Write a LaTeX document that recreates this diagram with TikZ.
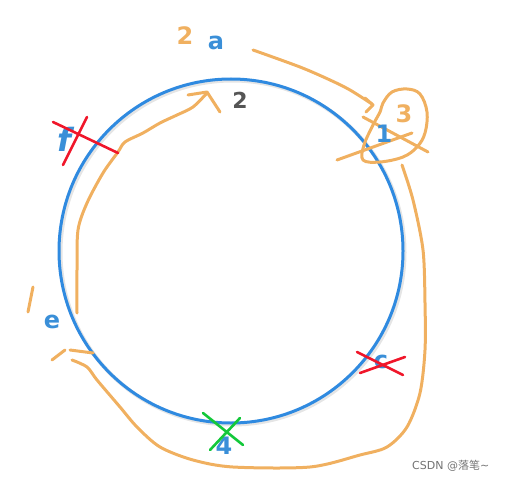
\documentclass[tikz,border=0pt]{standalone}
\usepackage{fontspec}
\setmainfont{DejaVu Sans}
\newfontfamily\cjk{Noto Sans CJK SC}
\definecolor{ringblue}{HTML}{2F8AE0}
\definecolor{inkblue}{HTML}{3A8FD8}
\definecolor{inkorange}{HTML}{F0B060}
\definecolor{inkred}{HTML}{F0162A}
\definecolor{inkgreen}{HTML}{13C83A}
\definecolor{inkgray}{HTML}{555555}
\begin{document}
\begin{tikzpicture}[x=1pt,y=-1pt,
  orange/.style={draw=inkorange,line width=3pt,line cap=round,line join=round},
  redx/.style={draw=inkred,line width=2.6pt,line cap=round},
  greenx/.style={draw=inkgreen,line width=2.6pt,line cap=round},
  bluelbl/.style={text=inkblue,inner sep=0pt,font=\fontsize{24}{24}\selectfont\bfseries},
  orangelbl/.style={text=inkorange,inner sep=0pt,font=\fontsize{24}{24}\selectfont\bfseries}]
\useasboundingbox (0,0) rectangle (508,481);
% ring with soft shadow
\draw[black!10,line width=4pt] (232.5,252.5) circle (172);
\draw[ringblue,line width=3pt] (231,251) circle (172);
% inner orange path with arrow
\draw[orange] plot[smooth,tension=0.5] coordinates {(77,313)(77,270)(78,230)(87,203)(103,173)(118,152)(125,142)(143,133)(160,123)(177,115)(193,107)(207,93)};
\draw[orange] (188,95) -- (207,92) -- (220,112);
% top arrow
\draw[orange] plot[smooth,tension=0.5] coordinates {(253,50)(300,67)(330,80)(350,90)(372,104)};
\draw[orange] (365,98) -- (373,105) -- (366,112);
% blob around 3
\draw[orange] plot[smooth cycle,tension=0.6] coordinates {(383,103)(392,92)(407,89)(420,94)(427,112)(425,133)(417,147)(403,157)(380,162)(363,160)(364,145)(373,125)(380,112)};
\draw[orange] (363,117) -- (428,152);
\draw[orange] (337,160) -- (412,133);
% big outer path
\draw[orange] plot[smooth,tension=0.5] coordinates {(402,165)(413,200)(423,250)(425,303)(425,350)(420,393)(407,427)(387,447)(360,455)(310,467)(233,467)(193,460)(160,447)(137,427)(120,407)(97,380)(87,367)(72,360)};
\draw[orange] (52,360) -- (65,350);
\draw[orange] (70,350) -- (93,353);
\draw[orange] (33,287) -- (28,312);
% labels
\node[orangelbl] (l2o) at (185,36) {2};
\node[bluelbl] (la) at (216,43) {a};
\node[text=inkgray,inner sep=0pt,font=\fontsize{22}{22}\selectfont\bfseries] (l2g) at (240,100) {2};
\node[orangelbl] (l3) at (404,114) {3};
\node[bluelbl] (l1) at (384,134) {1};
\node[bluelbl,font=\fontsize{32}{32}\selectfont\bfseries\itshape] (lf) at (64,139) {f};
\node[bluelbl] (le) at (52,322) {e};
\node[bluelbl] (lc) at (381,362) {c};
\node[bluelbl] (l4) at (224,446) {4};
% crosses
\draw[redx] (53,122) -- (118,153);
\draw[redx] (87,117) -- (63,165);
\draw[redx] (357,352) -- (403,375);
\draw[redx] (360,373) -- (405,357);
\draw[greenx] (203,413) -- (243,445);
\draw[greenx] (240,418) -- (210,450);
% watermark
\node[text=black!55,inner sep=0pt,anchor=west,font=\fontsize{11}{11}\selectfont] (wm) at (412,466) {CSDN @{\cjk 落笔}\textasciitilde};
\end{tikzpicture}
\end{document}
